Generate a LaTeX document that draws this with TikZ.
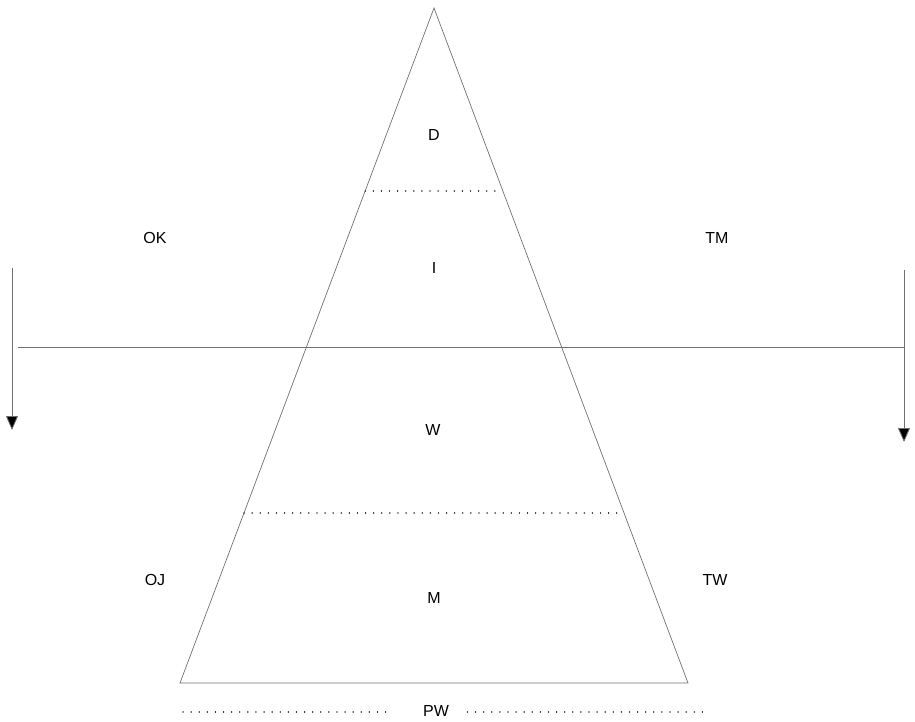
\documentclass[tikz,border=0pt]{standalone}
\usepackage{fontspec}
\setmainfont{Liberation Sans}
\usepackage{tikz}
\usetikzlibrary{arrows.meta,positioning,calc}
\definecolor{lineg}{HTML}{707070}

\begin{document}
\begin{tikzpicture}[
  x=1pt, y=-1pt,
  every node/.style={font=\fontsize{16}{18}\selectfont, text=black},
  edge/.style={draw=lineg, line width=0.7pt},
  split/.style={draw=black!85, line width=1.3pt, dash pattern=on 0.1pt off 8pt, line cap=round},
  arr/.style={-{Triangle[width=12pt,length=14pt,fill=black]}, draw=lineg, line width=0.8pt}
]
\useasboundingbox (0,0) rectangle (915,722);

% Pyramid corners
\coordinate (apex) at (434,8);
\coordinate (bl) at (180,683);
\coordinate (br) at (688,683);

% Pyramid
\draw[edge] (bl) -- (apex) -- (br) -- cycle;

% Dotted layers
\draw[split] ($(apex)!0.271!(bl)$) -- ($(apex)!0.271!(br)$);
\draw[split] ($(apex)!0.748!(bl)$) -- ($(apex)!0.748!(br)$);

% Main horizontal divider
\coordinate (hl) at (18,347);
\coordinate (hr) at (904,347);
\draw[edge] (hl) -- (hr);

% Side arrows
\coordinate (ltop) at (12,268);
\coordinate (lbot) at (12,430);
\coordinate (rtop) at (904,270);
\coordinate (rbot) at (904,442);
\draw[arr] (ltop) -- (lbot);
\draw[arr] (rtop) -- (rbot);

% Layer labels
\node (d) at (434,135) {D};
\node (i) at (434,268) {I};
\node (w) at (433,430) {W};
\node (m) at (434,598) {M};

% Side labels
\node (ok) at (155,238) {OK};
\node (tm) at (717,238) {TM};
\node (oj) at (155,580) {OJ};
\node (tw) at (715,580) {TW};

% Base label
\node (pw) at (436,711) {PW};
\coordinate (pwl) at (183,712);
\coordinate (pwr) at (710,712);
\draw[split] (pwl) -- ([xshift=-26pt]pw.west |- pwl);
\draw[split] ([xshift=15pt]pw.east |- pwr) -- (pwr);

\end{tikzpicture}
\end{document}
